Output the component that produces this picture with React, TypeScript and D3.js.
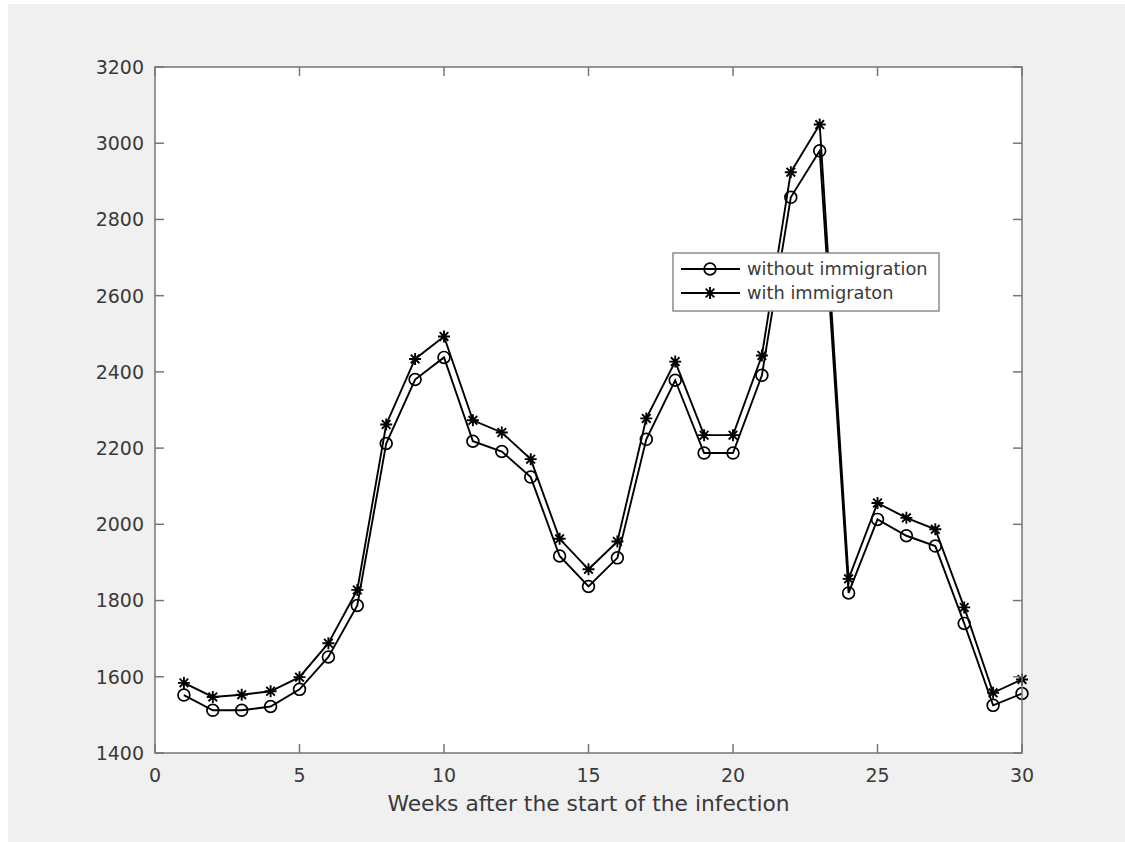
import * as d3 from "d3";

const weeks = d3.range(1, 31);
const withoutImmigration = [
  1552, 1512, 1512, 1522, 1567, 1652, 1787, 2212, 2380, 2438, 2218, 2191, 2124, 1917, 1837,
  1912, 2223, 2378, 2187, 2187, 2391, 2858, 2980, 1820, 2013, 1970, 1943, 1740, 1525, 1556,
];
const withImmigration = [
  1584, 1547, 1553, 1562, 1599, 1688, 1828, 2262, 2434, 2493, 2273, 2241, 2171, 1962, 1882,
  1955, 2278, 2427, 2234, 2234, 2443, 2924, 3049, 1857, 2056, 2017, 1987, 1782, 1558, 1593,
];
const xTicks = [0, 5, 10, 15, 20, 25, 30];
const yTicks = [1400, 1600, 1800, 2000, 2200, 2400, 2600, 2800, 3000, 3200];
const seriesNames = ["without immigration", "with immigraton"];

const W = 1125;
const H = 842;
const m = { left: 155, right: 1022, top: 67, bottom: 753 };
const font = "DejaVu Sans, sans-serif";
const axisColor = "#767676";
const textColor = "#3a3a3a";

const Star = ({ x, y, s = 6 }: { x: number; y: number; s?: number }) => {
  const d = s * 0.72;
  return (
    <path
      d={`M${x - s},${y}H${x + s}M${x},${y - s}V${y + s}M${x - d},${y - d}L${x + d},${y + d}M${x - d},${y + d}L${x + d},${y - d}`}
      stroke="#000"
      strokeWidth={1.9}
    />
  );
};

const Ring = ({ x, y }: { x: number; y: number }) => (
  <circle cx={x} cy={y} r={5.9} fill="none" stroke="#000" strokeWidth={1.7} />
);

export default function App() {
  const x = d3.scaleLinear().domain([0, 30]).range([m.left, m.right]);
  const y = d3.scaleLinear().domain([1400, 3200]).range([m.bottom, m.top]);
  const line = d3
    .line<number>()
    .x((_, i) => x(weeks[i]))
    .y((d) => y(d));

  const tick = 9;
  const lgX = 673;
  const lgY = 253;

  return (
    <div style={{ position: "absolute", left: 0, top: 0 }}>
      <svg width={W} height={H} style={{ display: "block" }}>
        <rect x={0} y={0} width={W} height={H} fill="#fff" />
        <rect x={8} y={4} width={W - 8} height={H - 4} fill="#f0f0f0" />
        <rect x={m.left} y={m.top} width={m.right - m.left} height={m.bottom - m.top} fill="#fff" />

        {/* series */}
        <path d={line(withoutImmigration) ?? ""} fill="none" stroke="#000" strokeWidth={1.9} />
        <path d={line(withImmigration) ?? ""} fill="none" stroke="#000" strokeWidth={1.9} />
        {withoutImmigration.map((v, i) => (
          <Ring key={"c" + i} x={x(weeks[i])} y={y(v)} />
        ))}
        {withImmigration.map((v, i) => (
          <Star key={"s" + i} x={x(weeks[i])} y={y(v)} />
        ))}

        {/* box + ticks */}
        <rect
          x={m.left}
          y={m.top}
          width={m.right - m.left}
          height={m.bottom - m.top}
          fill="none"
          stroke={axisColor}
          strokeWidth={1.5}
        />
        {xTicks.map((t) => (
          <g key={"x" + t}>
            <line x1={x(t)} x2={x(t)} y1={m.bottom} y2={m.bottom - tick} stroke={axisColor} strokeWidth={1.5} />
            <line x1={x(t)} x2={x(t)} y1={m.top} y2={m.top + tick} stroke={axisColor} strokeWidth={1.5} />
            <text x={x(t)} y={782} textAnchor="middle" fontFamily={font} fontSize={19} fill={textColor}>
              {t}
            </text>
          </g>
        ))}
        {yTicks.map((t) => (
          <g key={"y" + t}>
            <line x1={m.left} x2={m.left + tick} y1={y(t)} y2={y(t)} stroke={axisColor} strokeWidth={1.5} />
            <line x1={m.right} x2={m.right - tick} y1={y(t)} y2={y(t)} stroke={axisColor} strokeWidth={1.5} />
            <text
              x={144}
              y={y(t)}
              dy="0.36em"
              textAnchor="end"
              fontFamily={font}
              fontSize={19}
              fill={textColor}
            >
              {t}
            </text>
          </g>
        ))}
        <text
          x={(m.left + m.right) / 2}
          y={811}
          textAnchor="middle"
          fontFamily={font}
          fontSize={21.8}
          fill={textColor}
        >
          Weeks after the start of the infection
        </text>

        {/* legend */}
        <g>
          <rect x={lgX} y={lgY} width={266} height={58} fill="#fff" stroke="#8c8c8c" strokeWidth={1.5} />
          {seriesNames.map((name, i) => {
            const ly = lgY + 16 + i * 24;
            return (
              <g key={name}>
                <line x1={lgX + 8} x2={lgX + 67} y1={ly} y2={ly} stroke="#000" strokeWidth={1.9} />
                {i === 0 ? <Ring x={lgX + 37} y={ly} /> : <Star x={lgX + 37} y={ly} />}
                <text x={lgX + 74} y={ly} dy="0.36em" fontFamily={font} fontSize={17.8} fill={textColor}>
                  {name}
                </text>
              </g>
            );
          })}
        </g>
      </svg>
    </div>
  );
}
